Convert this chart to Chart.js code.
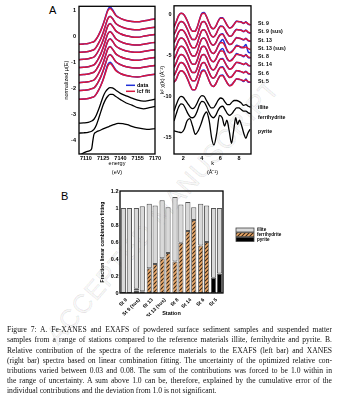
<!DOCTYPE html>
<html>
<head>
<meta charset="utf-8">
<script src="https://cdn.jsdelivr.net/npm/chart.js@4.4.1/dist/chart.umd.min.js"></script>
<style>
  html, body { margin: 0; padding: 0; background: #fff; }
  body { width: 337px; height: 399px; position: relative; overflow: hidden;
         font-family: "Liberation Sans", Arial, sans-serif; }
  canvas { position: absolute; }
  #xanes { left: 55px; top: 0; }
  #exafs { left: 155px; top: 0; }
  #lcf { left: 90px; top: 180px; }
  .panel { position: absolute; font-size: 11px; line-height: 1; color: #000; }
  #wm { position: absolute; left: 163px; top: 212px; white-space: nowrap;
        transform: translate(-50%, -50%) rotate(-49deg);
        font: 26px "Liberation Sans", Arial, sans-serif; letter-spacing: 1px;
        color: rgba(0,0,0,0.04); -webkit-text-stroke: 0.6px rgba(0,0,0,0.12); }
  #caption .ln { position: absolute; left: 7px; white-space: nowrap;
        font-family: "Liberation Serif", "Times New Roman", serif;
        font-size: 7.6px; line-height: 10px; color: #111; transform-origin: 0 0; }
</style>
</head>
<body>
<div id="wm">ACCEPTED MANUSCRIPT</div>
<div class="panel" style="left:49px;top:5px;">A</div>
<div class="panel" style="left:61px;top:191px;">B</div>
<canvas id="xanes" width="110" height="182"></canvas>
<canvas id="exafs" width="182" height="182"></canvas>
<canvas id="lcf" width="247" height="150"></canvas>
<div id="caption">
  <div class="ln" style="top:325px">Figure 7: A. Fe-XANES and EXAFS of powdered surface sediment samples and suspended matter</div>
  <div class="ln" style="top:335px">samples from a range of stations compared to the reference materials illite, ferrihydrite and pyrite. B.</div>
  <div class="ln" style="top:345.5px">Relative contribution of the spectra of the reference materials to the EXAFS (left bar) and XANES</div>
  <div class="ln" style="top:355.5px">(right bar) spectra based on linear combination fitting. The uncertainty of the optimized relative con-</div>
  <div class="ln" style="top:366px">tributions varied between 0.03 and 0.08. The sum of the contributions was forced to be 1.0 within in</div>
  <div class="ln" style="top:376px">the range of uncertainty. A sum above 1.0 can be, therefore, explained by the cumulative error of the</div>
  <div class="ln last" style="top:386px">individual contributions and the deviation from 1.0 is not significant.</div>
</div>
<script>
// ---------- Fe K-edge XANES (normalized, stacked) ----------
const xanesEnergy = [7104,7108,7112,7115,7117,7119,7121,7123,7125,7127,7129,7131,7133,7136,7140,7145,7150,7155,7160,7165,7170];
const xanesSt9Data   = [-0.30,-0.29,-0.27,-0.23,-0.20,-0.10,0.05,0.24,0.47,0.75,1.02,1.12,1.03,0.81,0.69,0.61,0.57,0.56,0.59,0.63,0.66];
const xanesSt9Fit    = [-0.30,-0.29,-0.27,-0.23,-0.20,-0.10,0.05,0.23,0.45,0.72,0.98,1.07,0.99,0.80,0.69,0.61,0.57,0.56,0.59,0.63,0.66];
const xanesSt9sData  = [-0.61,-0.60,-0.58,-0.54,-0.51,-0.41,-0.26,-0.08,0.15,0.42,0.68,0.77,0.69,0.49,0.38,0.30,0.26,0.25,0.28,0.32,0.35];
const xanesSt9sFit   = [-0.61,-0.60,-0.58,-0.54,-0.51,-0.41,-0.26,-0.08,0.14,0.41,0.67,0.76,0.68,0.49,0.38,0.30,0.26,0.25,0.28,0.32,0.35];
const xanesSt13Data  = [-0.89,-0.88,-0.86,-0.82,-0.79,-0.69,-0.54,-0.36,-0.14,0.14,0.40,0.49,0.40,0.21,0.10,0.02,-0.02,-0.03,0.00,0.04,0.07];
const xanesSt13Fit   = [-0.89,-0.88,-0.86,-0.82,-0.79,-0.69,-0.54,-0.36,-0.14,0.13,0.39,0.48,0.40,0.21,0.10,0.02,-0.02,-0.03,0.00,0.04,0.07];
const xanesSt13sData = [-1.19,-1.18,-1.16,-1.12,-1.09,-0.99,-0.84,-0.66,-0.43,-0.16,0.10,0.19,0.10,-0.09,-0.20,-0.28,-0.32,-0.33,-0.30,-0.26,-0.23];
const xanesSt13sFit  = [-1.19,-1.18,-1.16,-1.12,-1.09,-0.99,-0.84,-0.66,-0.44,-0.17,0.09,0.18,0.10,-0.09,-0.20,-0.28,-0.32,-0.33,-0.30,-0.26,-0.23];
const xanesSt8Data   = [-1.47,-1.46,-1.44,-1.40,-1.37,-1.27,-1.12,-0.94,-0.72,-0.44,-0.18,-0.09,-0.18,-0.37,-0.48,-0.56,-0.60,-0.61,-0.58,-0.54,-0.51];
const xanesSt8Fit    = [-1.47,-1.46,-1.44,-1.40,-1.37,-1.27,-1.12,-0.94,-0.72,-0.45,-0.19,-0.10,-0.18,-0.37,-0.48,-0.56,-0.60,-0.61,-0.58,-0.54,-0.51];
const xanesSt14Data  = [-1.77,-1.76,-1.74,-1.70,-1.67,-1.57,-1.42,-1.24,-1.01,-0.74,-0.48,-0.39,-0.48,-0.67,-0.78,-0.86,-0.90,-0.91,-0.88,-0.84,-0.81];
const xanesSt14Fit   = [-1.77,-1.76,-1.74,-1.70,-1.67,-1.57,-1.42,-1.24,-1.02,-0.75,-0.49,-0.40,-0.48,-0.67,-0.78,-0.86,-0.90,-0.91,-0.88,-0.84,-0.81];
const xanesSt6Data   = [-2.07,-2.06,-2.04,-2.00,-1.97,-1.87,-1.72,-1.54,-1.31,-1.04,-0.78,-0.69,-0.78,-0.97,-1.08,-1.16,-1.20,-1.21,-1.18,-1.14,-1.11];
const xanesSt6Fit    = [-2.07,-2.06,-2.04,-2.00,-1.97,-1.87,-1.72,-1.54,-1.32,-1.05,-0.79,-0.70,-0.78,-0.97,-1.08,-1.16,-1.20,-1.21,-1.18,-1.14,-1.11];
const xanesSt5Data   = [-2.41,-2.40,-2.38,-2.34,-2.31,-2.21,-2.06,-1.87,-1.64,-1.35,-1.08,-0.99,-1.08,-1.29,-1.42,-1.50,-1.54,-1.55,-1.52,-1.48,-1.45];
const xanesSt5Fit    = [-2.41,-2.40,-2.38,-2.34,-2.31,-2.21,-2.06,-1.88,-1.66,-1.39,-1.13,-1.04,-1.12,-1.31,-1.42,-1.50,-1.54,-1.55,-1.52,-1.48,-1.45];
const xanesIllite    = [-3.32,-3.31,-3.29,-3.24,-3.17,-3.02,-2.80,-2.55,-2.30,-2.12,-2.01,-1.96,-1.97,-2.06,-2.18,-2.28,-2.36,-2.44,-2.48,-2.45,-2.40];
const xanesFerri     = [-3.70,-3.69,-3.67,-3.63,-3.56,-3.40,-3.15,-2.88,-2.62,-2.42,-2.29,-2.22,-2.22,-2.30,-2.42,-2.55,-2.63,-2.73,-2.77,-2.73,-2.68];
const pyriteEnergy   = [7104,7107,7110,7113,7115,7116,7117,7119,7122,7126,7130,7134,7138,7142,7146,7150,7155,7160,7165,7170];
const xanesPyrite    = [-4.56,-4.48,-4.42,-4.38,-4.30,-4.00,-3.75,-3.66,-3.60,-3.52,-3.45,-3.38,-3.33,-3.34,-3.38,-3.44,-3.50,-3.54,-3.56,-3.53];
const xanesEnergyTicks = [7110, 7125, 7140, 7155, 7170];
const xanesYTicks = [1, 0, -1, -2, -3, -4];

// ---------- k²-weighted EXAFS (stacked) ----------
const exafsK = [1.0,1.25,1.5,1.75,2.0,2.25,2.5,2.75,3.0,3.25,3.5,3.75,4.0,4.25,4.5,4.75,5.0,5.25,5.5,5.75,6.0,6.25,6.5,6.75,7.0,7.25,7.5,7.75,8.0,8.25,8.5,8.75,9.0,9.25];
const exSt9Data   = [-1.6,-0.9,-0.2,0.1,0.0,-0.4,-1.0,-1.7,-2.1,-2.1,-1.6,-0.7,0.1,0.2,-0.3,-1.0,-1.6,-1.8,-1.5,-0.9,-0.45,-0.45,-0.9,-1.4,-1.7,-1.55,-1.2,-0.85,-0.95,-0.95,-1.15,-0.95,-1.25,-1.3];
const exSt9Fit    = [-1.6,-0.9,-0.2,0.1,0.0,-0.4,-1.0,-1.7,-2.1,-2.1,-1.6,-0.7,0.0,0.1,-0.3,-1.0,-1.6,-1.8,-1.5,-0.9,-0.5,-0.5,-0.9,-1.4,-1.7,-1.6,-1.2,-0.9,-0.9,-1.0,-1.1,-1.0,-1.2,-1.3];
const exSt9sData  = [-2.5,-1.9,-1.2,-0.9,-1.0,-1.4,-2.0,-2.7,-3.1,-3.1,-2.6,-1.7,-1.0,-0.9,-1.3,-2.0,-2.6,-2.8,-2.5,-1.9,-1.45,-1.5,-1.9,-2.4,-2.7,-2.6,-2.15,-1.85,-1.95,-1.95,-2.15,-1.95,-2.25,-2.3];
const exSt9sFit   = [-2.5,-1.9,-1.2,-0.9,-1.0,-1.4,-2.0,-2.7,-3.1,-3.1,-2.6,-1.7,-1.0,-0.9,-1.3,-2.0,-2.6,-2.8,-2.5,-1.9,-1.5,-1.5,-1.9,-2.4,-2.7,-2.6,-2.2,-1.9,-1.9,-2.0,-2.1,-2.0,-2.2,-2.3];
const exSt13Data  = [-3.5,-2.9,-2.2,-1.9,-2.0,-2.4,-3.0,-3.7,-4.1,-4.1,-3.6,-2.7,-2.0,-1.9,-2.3,-3.0,-3.6,-3.8,-3.5,-2.9,-2.5,-2.4,-2.9,-3.4,-3.7,-3.6,-3.2,-2.85,-2.95,-3.0,-3.15,-2.95,-3.25,-3.3];
const exSt13Fit   = [-3.5,-2.9,-2.2,-1.9,-2.0,-2.4,-3.0,-3.7,-4.1,-4.1,-3.6,-2.7,-2.0,-1.9,-2.3,-3.0,-3.6,-3.8,-3.5,-2.9,-2.5,-2.5,-2.9,-3.4,-3.7,-3.6,-3.2,-2.9,-2.9,-3.0,-3.1,-3.0,-3.2,-3.3];
const exSt13sData = [-4.5,-3.9,-3.2,-2.9,-3.0,-3.4,-4.0,-4.7,-5.1,-5.1,-4.6,-3.7,-3.0,-2.9,-3.3,-4.0,-4.6,-4.8,-4.5,-3.9,-3.4,-3.1,-3.7,-4.5,-4.7,-4.5,-4.2,-3.8,-3.9,-4.1,-4.0,-3.7,-4.6,-4.7];
const exSt13sFit  = [-4.5,-3.9,-3.2,-2.9,-3.0,-3.4,-4.0,-4.7,-5.1,-5.1,-4.6,-3.7,-3.0,-2.9,-3.3,-4.0,-4.6,-4.8,-4.5,-3.9,-3.5,-3.5,-3.9,-4.4,-4.7,-4.6,-4.2,-3.9,-3.9,-4.0,-4.1,-4.0,-4.2,-4.3];
const exSt8Data   = [-5.5,-4.9,-4.2,-3.9,-4.0,-4.4,-5.0,-5.7,-6.1,-6.1,-5.6,-4.7,-4.0,-3.9,-4.3,-5.0,-5.6,-5.8,-5.5,-4.9,-4.4,-4.2,-4.8,-5.5,-5.7,-5.5,-5.2,-4.8,-4.95,-5.0,-5.2,-4.9,-5.3,-5.3];
const exSt8Fit    = [-5.5,-4.9,-4.2,-3.9,-4.0,-4.4,-5.0,-5.7,-6.1,-6.1,-5.6,-4.7,-4.0,-3.9,-4.3,-5.0,-5.6,-5.8,-5.5,-4.9,-4.5,-4.5,-4.9,-5.4,-5.7,-5.6,-5.2,-4.9,-4.9,-5.0,-5.1,-5.0,-5.2,-5.3];
const exSt14Data  = [-6.5,-5.9,-5.2,-4.9,-5.0,-5.4,-6.0,-6.7,-7.1,-7.1,-6.6,-5.7,-5.0,-4.9,-5.3,-6.0,-6.6,-6.8,-6.5,-5.9,-5.45,-5.4,-5.9,-6.4,-6.7,-6.55,-6.2,-5.85,-5.95,-6.0,-6.15,-5.95,-6.25,-6.3];
const exSt14Fit   = [-6.5,-5.9,-5.2,-4.9,-5.0,-5.4,-6.0,-6.7,-7.1,-7.1,-6.6,-5.7,-5.0,-4.9,-5.3,-6.0,-6.6,-6.8,-6.5,-5.9,-5.5,-5.5,-5.9,-6.4,-6.7,-6.6,-6.2,-5.9,-5.9,-6.0,-6.1,-6.0,-6.2,-6.3];
const exSt6Data   = [-7.5,-6.9,-6.2,-5.9,-6.0,-6.4,-7.0,-7.7,-8.1,-8.1,-7.6,-6.7,-6.0,-5.9,-6.3,-7.0,-7.6,-7.8,-7.5,-6.9,-6.45,-6.4,-6.9,-7.4,-7.7,-7.55,-7.2,-6.85,-6.95,-7.0,-7.15,-6.95,-7.25,-7.3];
const exSt6Fit    = [-7.5,-6.9,-6.2,-5.9,-6.0,-6.4,-7.0,-7.7,-8.1,-8.1,-7.6,-6.7,-6.0,-5.9,-6.3,-7.0,-7.6,-7.8,-7.5,-6.9,-6.5,-6.5,-6.9,-7.4,-7.7,-7.6,-7.2,-6.9,-6.9,-7.0,-7.1,-7.0,-7.2,-7.3];
const exSt5Data   = [-8.3,-7.9,-7.2,-6.9,-7.0,-7.4,-8.0,-8.7,-9.2,-9.2,-8.6,-7.7,-6.9,-6.8,-7.3,-8.0,-8.6,-8.8,-8.5,-7.9,-7.45,-7.4,-7.9,-8.4,-8.7,-8.55,-8.2,-7.85,-7.95,-8.0,-8.2,-7.9,-8.3,-8.3];
const exSt5Fit    = [-8.3,-7.9,-7.2,-6.9,-7.0,-7.4,-8.0,-8.7,-9.2,-9.2,-8.6,-7.7,-7.0,-6.9,-7.3,-8.0,-8.6,-8.8,-8.5,-7.9,-7.5,-7.5,-7.9,-8.4,-8.7,-8.6,-8.2,-7.9,-7.9,-8.0,-8.1,-8.0,-8.2,-8.3];
const exIllite    = [-11.8,-11.0,-10.3,-10.0,-10.1,-10.5,-10.9,-11.3,-11.5,-11.3,-10.8,-10.2,-9.9,-10.0,-10.5,-11.0,-11.4,-11.4,-11.0,-10.5,-10.2,-10.3,-10.7,-11.0,-11.0,-10.7,-10.5,-10.5,-10.6,-10.8,-11.1,-11.0,-11.2,-11.3];
const exFerri     = [-13.0,-12.1,-11.3,-10.9,-11.0,-11.5,-12.1,-12.5,-12.6,-12.4,-11.8,-11.0,-10.6,-10.7,-11.2,-11.9,-12.4,-12.6,-12.3,-11.7,-11.3,-11.2,-11.6,-12.1,-12.3,-12.1,-11.7,-11.4,-11.4,-11.6,-11.8,-11.8,-12.0,-12.1];
const pyriteK     = [1.0,1.4,1.8,2.1,2.4,2.7,3.0,3.3,3.6,3.9,4.2,4.5,4.8,5.05,5.3,5.6,5.9,6.2,6.45,6.7,6.95,7.2,7.45,7.65,7.85,8.05,8.3,8.55,8.75,8.95,9.2];
const exPyrite    = [-14.2,-14.3,-14.4,-14.0,-13.0,-12.7,-13.6,-14.6,-14.2,-13.4,-12.4,-11.9,-13.0,-15.0,-15.9,-14.5,-12.3,-12.6,-13.6,-12.9,-14.2,-15.7,-14.0,-12.6,-13.4,-12.9,-13.6,-14.6,-15.1,-14.5,-14.0];
const exafsKTicks = [2, 4, 6, 8];
const exafsYTicks = [0, -5, -10, -15];
const exafsNames  = ['St. 9', 'St. 9 (sus)', 'St. 13', 'St. 13 (sus)', 'St. 8', 'St. 14', 'St. 6', 'St. 5'];
const referenceNames = ['illite', 'ferrihydrite', 'pyrite'];

// ---------- linear combination fitting fractions ----------
const stations = ['St 9', 'St 9 (sus)', 'St 13', 'St 13 (sus)', 'St 8', 'St 14', 'St 6', 'St 5'];
const pyriteExafs = [0, 0.03, 0, 0, 0, 0, 0, 0.18];
const ferriExafs  = [0, 0.02, 0.29, 0.41, 0.37, 0.73, 0.56, 0];
const illiteExafs = [1.00, 0.95, 0.76, 0.68, 0.76, 0.34, 0.49, 0.82];
const pyriteXanes = [0, 0.02, 0, 0, 0, 0, 0, 0.23];
const ferriXanes  = [0, 0, 0.34, 0.47, 0.59, 0.86, 0.60, 0];
const illiteXanes = [1.00, 1.00, 0.69, 0.54, 0.45, 0.15, 0.43, 0.77];
const fractionTicks = [0, 0.2, 0.4, 0.6, 0.8, 1, 1.2];

// ---------- styling ----------
const RED = '#d8163e', BLUE = '#1f2fd8';
const FONT = '"Liberation Sans", Arial, sans-serif';
Chart.defaults.font.family = FONT;
Chart.defaults.color = '#000';

const pts = (xs, ys) => xs.map((x, i) => ({ x: x, y: ys[i] }));
const fixedTicks = vals => s => { s.ticks = vals.map(v => ({ value: v })); };

const framePlugin = {
  id: 'frame',
  afterDatasetsDraw(chart) {
    const { ctx, chartArea: a } = chart;
    ctx.save();
    ctx.strokeStyle = '#000';
    ctx.lineWidth = 1.3;
    ctx.strokeRect(a.left, a.top, a.right - a.left, a.bottom - a.top);
    ctx.restore();
  }
};

function lineSet(xs, ys, color, order, width) {
  return { data: pts(xs, ys), borderColor: color, borderWidth: width, order: order,
           pointRadius: 0, fill: false, cubicInterpolationMode: 'monotone' };
}

function baseScales(opts) {
  return {
    x: {
      type: 'linear', min: opts.xmin, max: opts.xmax,
      afterBuildTicks: fixedTicks(opts.xticks),
      afterFit: s => { s.height = 23; },
      grid: { display: false, drawTicks: false }, border: { display: false },
      ticks: { font: { size: 5.5, weight: 'bold' }, padding: 1.5, maxRotation: 0, autoSkip: false,
               callback: v => String(v) },
      title: { display: true, text: opts.xtitle, font: { size: 5.5, lineHeight: 1.6 },
               padding: { top: 0, bottom: 0 } }
    },
    y: {
      type: 'linear', min: opts.ymin, max: opts.ymax,
      afterBuildTicks: fixedTicks(opts.yticks),
      afterFit: s => { s.width = opts.ywidth; },
      grid: { display: false, drawTicks: false }, border: { display: false },
      ticks: { font: { size: 5.5, weight: 'bold' }, padding: opts.ypad, autoSkip: false,
               callback: v => String(v) },
      title: { display: true, text: opts.ytitle, font: { size: 5.5 },
               padding: { top: opts.ytitlePad, bottom: 0 } }
    }
  };
}

// ----- XANES -----
const xanesStations = [
  [xanesSt9Data, xanesSt9Fit], [xanesSt9sData, xanesSt9sFit], [xanesSt13Data, xanesSt13Fit],
  [xanesSt13sData, xanesSt13sFit], [xanesSt8Data, xanesSt8Fit], [xanesSt14Data, xanesSt14Fit],
  [xanesSt6Data, xanesSt6Fit], [xanesSt5Data, xanesSt5Fit]
];
const xanesSets = [];
xanesStations.forEach(([d, f]) => {
  xanesSets.push(lineSet(xanesEnergy, d, BLUE, 2, 1.5));
  xanesSets.push(lineSet(xanesEnergy, f, RED, 1, 1.5));
});
xanesSets.push(lineSet(xanesEnergy, xanesIllite, '#000', 0, 1.3));
xanesSets.push(lineSet(xanesEnergy, xanesFerri, '#000', 0, 1.3));
xanesSets.push(lineSet(pyriteEnergy, xanesPyrite, '#000', 0, 1.3));

const xanesLegend = {
  id: 'xanesLegend',
  afterDraw(chart) {
    const { ctx, chartArea: a } = chart;
    const x0 = a.left + 47, y0 = a.top + 79;
    ctx.save();
    ctx.lineWidth = 1.5;
    [[BLUE, 'data'], [RED, 'lcf fit']].forEach(([c, t], i) => {
      const y = y0 + i * 6;
      ctx.strokeStyle = c;
      ctx.beginPath(); ctx.moveTo(x0, y); ctx.lineTo(x0 + 9, y); ctx.stroke();
      ctx.fillStyle = '#000';
      ctx.font = 'bold 5.5px ' + FONT;
      ctx.textBaseline = 'middle';
      ctx.fillText(t, x0 + 11, y);
    });
    ctx.restore();
  }
};

new Chart(document.getElementById('xanes'), {
  type: 'line',
  data: { datasets: xanesSets },
  options: {
    responsive: false, animation: false, devicePixelRatio: 1,
    layout: { padding: { top: 3, right: 10, bottom: 5, left: 0 } },
    plugins: { legend: { display: false }, tooltip: { enabled: false } },
    scales: baseScales({ xmin: 7104, xmax: 7170, xticks: xanesEnergyTicks, xtitle: ['energy', '(eV)'],
                         ymin: -4.5, ymax: 1.15, yticks: xanesYTicks, ytitle: 'normalized μ(E)',
                         ywidth: 24, ypad: 3, ytitlePad: 8.5 })
  },
  plugins: [framePlugin, xanesLegend]
});

// ----- EXAFS -----
const exafsStations = [
  [exSt9Data, exSt9Fit], [exSt9sData, exSt9sFit], [exSt13Data, exSt13Fit], [exSt13sData, exSt13sFit],
  [exSt8Data, exSt8Fit], [exSt14Data, exSt14Fit], [exSt6Data, exSt6Fit], [exSt5Data, exSt5Fit]
];
const exafsSets = [];
exafsStations.forEach(([d, f]) => {
  exafsSets.push(lineSet(exafsK, d, BLUE, 2, 1.5));
  exafsSets.push(lineSet(exafsK, f, RED, 1, 1.5));
});
exafsSets.push(lineSet(exafsK, exIllite, '#000', 0, 1.3));
exafsSets.push(lineSet(exafsK, exFerri, '#000', 0, 1.3));
exafsSets.push(lineSet(pyriteK, exPyrite, '#000', 0, 1.3));

const exafsLabels = {
  id: 'exafsLabels',
  afterDraw(chart) {
    const { ctx, chartArea: a, scales } = chart;
    ctx.save();
    ctx.fillStyle = '#000';
    ctx.font = 'bold 5.2px ' + FONT;
    ctx.textBaseline = 'middle';
    const x = a.right + 7;
    exafsStations.forEach(([d, f], i) => {
      ctx.fillText(exafsNames[i], x, scales.y.getPixelForValue(f[f.length - 1]) - 1);
    });
    const refEnds = [exIllite[exIllite.length - 1], exFerri[exFerri.length - 1], exPyrite[exPyrite.length - 1]];
    const nudge = [1, 3.5, 2.5];
    referenceNames.forEach((n, i) => {
      ctx.fillText(n, x, scales.y.getPixelForValue(refEnds[i]) + nudge[i]);
    });
    ctx.restore();
  }
};

new Chart(document.getElementById('exafs'), {
  type: 'line',
  data: { datasets: exafsSets },
  options: {
    responsive: false, animation: false, devicePixelRatio: 1,
    layout: { padding: { top: 3, right: 86, bottom: 5, left: 0 } },
    plugins: { legend: { display: false }, tooltip: { enabled: false } },
    scales: baseScales({ xmin: 1, xmax: 9.3, xticks: exafsKTicks, xtitle: ['k', '(Å⁻¹)'],
                         ymin: -17, ymax: 1, yticks: exafsYTicks, ytitle: 'k² χ(k) (Å⁻²)',
                         ywidth: 19, ypad: 2.5, ytitlePad: 4.5 })
  },
  plugins: [framePlugin, exafsLabels]
});

// ----- LCF fractions -----
function makeHatch() {
  const c = document.createElement('canvas');
  c.width = 4; c.height = 4;
  const g = c.getContext('2d');
  g.fillStyle = '#eca969';
  g.fillRect(0, 0, 4, 4);
  g.strokeStyle = '#3a2410';
  g.lineWidth = 1.1;
  g.beginPath();
  g.moveTo(-1, 5); g.lineTo(5, -1);
  g.moveTo(-1, 1); g.lineTo(1, -1);
  g.moveTo(3, 5); g.lineTo(5, 3);
  g.stroke();
  return g.createPattern(c, 'repeat');
}
const hatch = makeHatch();
const phaseFill = { illite: '#d9d9d9', ferrihydrite: hatch, pyrite: '#000' };

function barSet(label, values, stack) {
  return { label: label, data: values, stack: stack, backgroundColor: phaseFill[label],
           borderColor: '#555', borderWidth: 1, borderSkipped: false,
           categoryPercentage: 0.92, barPercentage: 0.88 };
}

const lcfLegend = {
  id: 'lcfLegend',
  afterDraw(chart) {
    const { ctx, chartArea: a } = chart;
    const x0 = a.right + 13, y0 = a.top + 37;
    ctx.save();
    referenceNames.forEach((n, i) => {
      const y = y0 + i * 4.7;
      ctx.fillStyle = phaseFill[n];
      ctx.fillRect(x0, y, 18, 4);
      ctx.strokeStyle = '#444';
      ctx.lineWidth = 0.8;
      ctx.strokeRect(x0, y, 18, 4);
      ctx.fillStyle = '#000';
      ctx.font = 'bold 4.6px ' + FONT;
      ctx.textBaseline = 'middle';
      ctx.fillText(n, x0 + 21, y + 2);
    });
    ctx.restore();
  }
};

new Chart(document.getElementById('lcf'), {
  type: 'bar',
  data: {
    labels: stations,
    datasets: [
      barSet('pyrite', pyriteExafs, 'exafs'),
      barSet('ferrihydrite', ferriExafs, 'exafs'),
      barSet('illite', illiteExafs, 'exafs'),
      barSet('pyrite', pyriteXanes, 'xanes'),
      barSet('ferrihydrite', ferriXanes, 'xanes'),
      barSet('illite', illiteXanes, 'xanes')
    ]
  },
  options: {
    responsive: false, animation: false, devicePixelRatio: 1,
    layout: { padding: { top: 11, right: 114, bottom: 13.7, left: 0 } },
    plugins: { legend: { display: false }, tooltip: { enabled: false } },
    scales: {
      x: {
        stacked: true,
        afterFit: s => { s.height = 23.3; },
        grid: { display: false, drawTicks: false }, border: { display: false },
        ticks: { font: { size: 5, weight: 'bold' }, padding: 4, minRotation: 45, maxRotation: 45, autoSkip: false },
        title: { display: true, text: 'Station', font: { size: 5.5, weight: 'bold' }, padding: { top: 0, bottom: 0 } }
      },
      y: {
        stacked: true, min: 0, max: 1.2,
        afterBuildTicks: fixedTicks(fractionTicks),
        afterFit: s => { s.width = 30; },
        grid: { display: false, drawTicks: false }, border: { display: false },
        ticks: { font: { size: 5.5, weight: 'bold' }, padding: 1.5, callback: v => String(v) },
        title: { display: true, text: 'Fraction linear combination fitting', font: { size: 5, weight: 'bold' },
                 padding: { top: 9.7, bottom: 0 } }
      }
    }
  },
  plugins: [framePlugin, lcfLegend]
});

// ----- caption: justify each typeset line to the column width -----
const COLUMN = 325;
document.querySelectorAll('#caption .ln').forEach(el => {
  if (el.classList.contains('last')) return;
  const w = el.getBoundingClientRect().width;
  const gaps = (el.textContent.match(/ /g) || []).length;
  if (w < COLUMN && gaps) {
    el.style.wordSpacing = ((COLUMN - w) / gaps) + 'px';
  } else if (w > COLUMN) {
    el.style.transform = 'scaleX(' + (COLUMN / w) + ')';
  }
});
</script>
</body>
</html>
